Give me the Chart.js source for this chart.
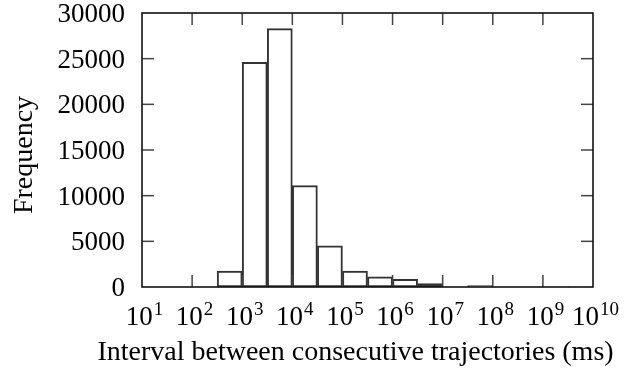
<!DOCTYPE html>
<html>
<head>
<meta charset="utf-8">
<script src="https://cdn.jsdelivr.net/npm/chart.js@4/dist/chart.umd.min.js"></script>
<style>
  html, body { margin: 0; padding: 0; background: #fff; }
  canvas { display: block; }
</style>
</head>
<body>
<canvas id="c" width="635" height="371"></canvas>
<script>
// ---- data ----
// lower edge of each half-decade bin, as log10 of the interval in ms
const binStartExponents = [1, 1.5, 2, 2.5, 3, 3.5, 4, 4.5, 5, 5.5, 6, 6.5, 7, 7.5, 8, 8.5, 9, 9.5];
const binWidthExponent = 0.5;
// frequency in each bin
const frequencies = [0, 0, 0, 1750, 24600, 28300, 11100, 4500, 1750, 1100, 840, 380, 0, 150, 0, 0, 0, 30];
// x tick labels: powers of ten
const xTickExponents = [1, 2, 3, 4, 5, 6, 7, 8, 9, 10];
// y tick values
const yTickValues = [0, 5000, 10000, 15000, 20000, 25000, 30000];
const xTitle = 'Interval between consecutive trajectories (ms)';
const yTitle = 'Frequency';

const FONT = '"Liberation Serif", "Times New Roman", serif';

const points = binStartExponents.map((e, i) => ({
  x: Math.pow(10, e + binWidthExponent / 2),
  y: frequencies[i]
}));

const framePlugin = {
  id: 'frame',
  afterDraw(chart) {
    const ctx = chart.ctx;
    const a = chart.chartArea;
    const xs = chart.scales.x, ys = chart.scales.y;
    const tl = 12, tw = 1.5;
    ctx.save();
    ctx.fillStyle = '#444';
    // x ticks (inward, bottom and top)
    xTickExponents.forEach((e, i) => {
      if (i === 0 || i === xTickExponents.length - 1) return;
      const px = xs.getPixelForValue(Math.pow(10, e));
      ctx.fillRect(px - tw / 2, a.bottom - tl, tw, tl);
      ctx.fillRect(px - tw / 2, a.top, tw, tl);
    });
    // y ticks (inward, left and right)
    yTickValues.forEach((v, i) => {
      if (i === 0 || i === yTickValues.length - 1) return;
      const py = ys.getPixelForValue(v);
      ctx.fillRect(a.left, py - tw / 2, tl, tw);
      ctx.fillRect(a.right - tl, py - tw / 2, tl, tw);
    });
    // frame
    ctx.strokeStyle = '#111';
    ctx.lineWidth = 1.6;
    ctx.strokeRect(a.left, a.top, a.right - a.left, a.bottom - a.top);

    ctx.fillStyle = '#000';
    ctx.textBaseline = 'alphabetic';

    // y tick labels
    ctx.font = '27px ' + FONT;
    ctx.textAlign = 'right';
    yTickValues.forEach(v => {
      const py = ys.getPixelForValue(v);
      ctx.fillText(String(v), a.left - 17, py + 9);
    });

    // x tick labels with superscript exponents
    ctx.textAlign = 'left';
    const big = '27px ' + FONT, small = '19px ' + FONT;
    xTickExponents.forEach(e => {
      const px = xs.getPixelForValue(Math.pow(10, e));
      ctx.font = big;
      const w1 = ctx.measureText('10').width;
      ctx.font = small;
      const w2 = ctx.measureText(String(e)).width;
      const x0 = px - (w1 + w2) / 2 + 2;
      const base = a.bottom + 38;
      ctx.font = big;
      ctx.fillText('10', x0, base);
      ctx.font = small;
      ctx.fillText(String(e), x0 + w1 + 1, base - 10);
    });

    // axis titles
    ctx.font = '28px ' + FONT;
    ctx.textAlign = 'center';
    ctx.fillText(xTitle, (a.left + a.right) / 2 - 12, a.bottom + 73);
    ctx.save();
    ctx.translate(32, (a.top + a.bottom) / 2 + 5);
    ctx.rotate(-Math.PI / 2);
    ctx.fillText(yTitle, 0, 0);
    ctx.restore();

    ctx.restore();
  }
};

new Chart(document.getElementById('c'), {
  type: 'bar',
  data: {
    datasets: [{
      data: points,
      backgroundColor: 'rgba(255,255,255,0)',
      borderColor: '#333',
      borderWidth: 1.3,
      barPercentage: 1.0,
      categoryPercentage: 1.0,
      borderSkipped: false
    }]
  },
  plugins: [framePlugin],
  options: {
    responsive: false,
    animation: false,
    layout: { padding: { left: 0, right: 42, top: 13, bottom: 0 } },
    plugins: { legend: { display: false }, tooltip: { enabled: false } },
    scales: {
      x: {
        type: 'logarithmic',
        min: Math.pow(10, xTickExponents[0]),
        max: Math.pow(10, xTickExponents[xTickExponents.length - 1]),
        grid: { display: false, drawTicks: false },
        border: { display: false },
        ticks: { display: false },
        afterBuildTicks: s => { s.ticks = xTickExponents.map(e => ({ value: Math.pow(10, e) })); },
        afterFit: s => { s.height = 84; },
        title: { display: false }
      },
      y: {
        min: 0, max: 30000,
        grid: { display: false, drawTicks: false },
        border: { display: false },
        ticks: { display: false },
        afterBuildTicks: s => { s.ticks = yTickValues.map(v => ({ value: v })); },
        afterFit: s => { s.width = 142; },
        title: { display: false }
      }
    }
  }
});
</script>
</body>
</html>
